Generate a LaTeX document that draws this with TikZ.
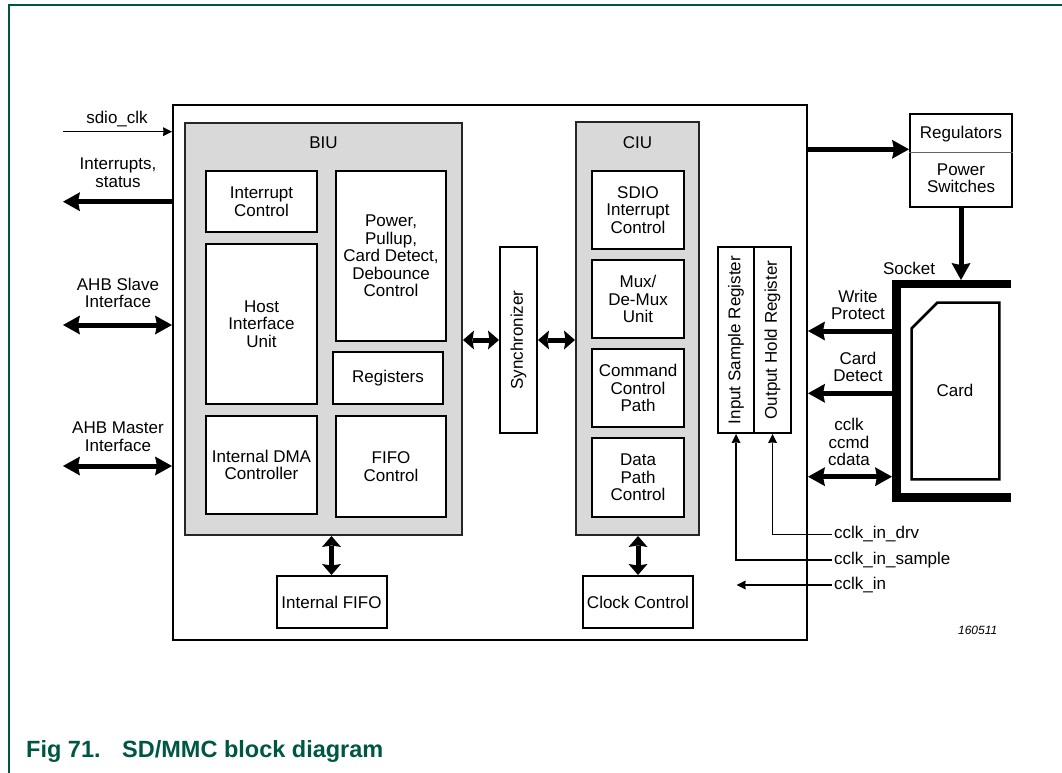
\documentclass[tikz,border=0pt]{standalone}
\usepackage{fontspec}
\setmainfont{Liberation Sans}
\usetikzlibrary{arrows.meta}
\definecolor{nxpgreen}{RGB}{0,86,68}
\definecolor{biugray}{RGB}{217,217,217}
\tikzset{
  txt/.style={font=\fontsize{17}{17.5}\selectfont, align=center, inner sep=0pt},
  wbox/.style={draw=black, line width=2pt, fill=white, rectangle, inner sep=0pt, align=center, font=\fontsize{17}{17.5}\selectfont},
  gbox/.style={draw=black!85, line width=2pt, fill=biugray, rectangle, inner sep=0pt},
  bigarrow/.style={line width=5pt, -{Stealth[length=17pt,width=19pt,inset=2pt,line width=0pt]}},
  bigdouble/.style={line width=5pt, {Stealth[length=17pt,width=19pt,inset=2pt,line width=0pt]}-{Stealth[length=17pt,width=19pt,inset=2pt,line width=0pt]}},
  shortdouble/.style={line width=5pt, {Stealth[length=11pt,width=19pt,inset=1.5pt,line width=0pt]}-{Stealth[length=11pt,width=19pt,inset=1.5pt,line width=0pt]}},
  thinarrow/.style={line width=1.4pt, -{Stealth[length=9pt,width=9pt,inset=0.5pt,line width=0pt]}},
  frameline/.style={draw=nxpgreen, line width=2pt},
  captxt/.style={anchor=base west, font=\fontsize{23.5}{23.5}\selectfont\bfseries, text=nxpgreen, inner sep=0pt},
}
\begin{document}
\begin{tikzpicture}[x=1pt,y=-1pt]
\useasboundingbox (0,0) rectangle (1062,773);
% page frame
\draw[frameline] (9,773) -- (9,5) -- (1062,5);

% main block
\node[wbox, minimum width=634pt, minimum height=535pt] (main) at (490,372.5) {};

% BIU
\node[gbox, minimum width=277pt, minimum height=412pt] (biu) at (323.5,329) {};
\node[txt] (biul) at (323.5,143) {BIU};
\node[wbox, minimum width=111pt, minimum height=61pt] (ic) at (261.5,201.5) {Interrupt\\Control};
\node[wbox, minimum width=111pt, minimum height=160pt] (hiu) at (261.5,324) {Host\\Interface\\Unit};
\node[wbox, minimum width=111pt, minimum height=98pt] (dma) at (261.5,465) {Internal DMA\\Controller};
\node[wbox, minimum width=110pt, minimum height=170pt] (pwr) at (391,256) {Power,\\Pullup,\\Card Detect,\\Debounce\\Control};
\node[wbox, minimum width=110pt, minimum height=52pt] (regs) at (388,378) {Registers};
\node[wbox, minimum width=110pt, minimum height=101pt] (fifoc) at (391,466.5) {FIFO\\Control};

% CIU
\node[gbox, minimum width=123pt, minimum height=413pt] (ciu) at (637.5,328.5) {};
\node[txt] (ciul) at (637.5,143) {CIU};
\node[wbox, minimum width=92pt, minimum height=78pt] (sdio) at (638,210) {SDIO\\Interrupt\\Control};
\node[wbox, minimum width=92pt, minimum height=78pt] (mux) at (638,299) {Mux/\\De-Mux\\Unit};
\node[wbox, minimum width=92pt, minimum height=78pt] (cmd) at (638,388) {Command\\Control\\Path};
\node[wbox, minimum width=92pt, minimum height=79pt] (dpc) at (638,477.5) {Data\\Path\\Control};

% Synchronizer
\node[wbox, minimum width=37pt, minimum height=186pt] (sync) at (518.5,340) {};
\node[txt, rotate=90] (syncl) at (sync.center) {Synchronizer};
\draw[shortdouble] (biu.east |- sync.west) -- (sync.west);
\draw[shortdouble] (sync.east) -- (ciu.west |- sync.east);

% bottom boxes
\node[wbox, minimum width=110pt, minimum height=52pt] (ififo) at (331.5,602) {Internal FIFO};
\node[wbox, minimum width=110pt, minimum height=52pt] (clkc) at (638,602) {Clock Control};
\draw[shortdouble] (ififo.north |- biu.south) -- (ififo.north);
\draw[shortdouble] (clkc.north |- ciu.south) -- (clkc.north);

% registers
\node[wbox, minimum width=36pt, minimum height=186pt] (isr) at (736,340) {};
\node[txt, rotate=90] (isrl) at (isr.center) {Input Sample Register};
\node[wbox, minimum width=37pt, minimum height=186pt] (ohr) at (772.5,340) {};
\node[txt, rotate=90] (ohrl) at (ohr.center) {Output Hold Register};

% left side signals
\coordinate (sdioend) at (63,131.7);
\coordinate (intend) at (63,201.7);
\coordinate (slvend) at (63,325);
\coordinate (mstend) at (63,466);
\draw[thinarrow] (sdioend) -- (main.west |- sdioend);
\node[txt] (sdiol) at (117,119) {sdio\_clk};
\draw[bigarrow] (main.west |- intend) -- (intend);
\node[txt] (intl) at (118,172.5) {Interrupts,\\status};
\draw[bigdouble] (slvend) -- (main.west |- slvend);
\node[txt] (slvl) at (118,293) {AHB Slave\\Interface};
\draw[bigdouble] (mstend) -- (main.west |- mstend);
\node[txt] (mstl) at (118,436.5) {AHB Master\\Interface};

% regulators
\node[draw=black, line width=2pt, fill=white, minimum width=102pt, minimum height=93pt, inner sep=0pt] (regbox) at (961,160.5) {};
\draw[line width=1pt, black!60] (regbox.west |- 0,152.3) -- (regbox.east |- 0,152.3);
\node[txt] (regul) at (961,134) {Regulators};
\node[txt] (pswl) at (961,178) {Power\\Switches};
\coordinate (pwrout) at (807,149.3);
\draw[bigarrow] (main.east |- pwrout) -- (regbox.west |- pwrout);
\coordinate (socktop) at (961,280);
\draw[bigarrow] (regbox.south) -- (socktop);

% socket and card
\draw[line width=8.5pt, line join=miter] (1011,284) -- (896.5,284) -- (896.5,497.5) -- (1011,497.5);
\node[txt] (sockl) at (909,268) {Socket};
\draw[line width=2.5pt, line join=miter] (937.3,302.7) -- (999.3,302.7) -- (999.3,479.3) -- (911.7,479.3) -- (911.7,328.3) -- cycle;
\node[txt] (cardl) at (955,390) {Card};

\coordinate (wps) at (892,331);
\coordinate (cds) at (892,393.3);
\coordinate (ccs) at (892,476.7);
\draw[bigarrow] (wps) -- (main.east |- wps);
\node[txt] (wpl) at (858,304.7) {Write\\Protect};
\draw[bigarrow] (cds) -- (main.east |- cds);
\node[txt] (cdl) at (858,366.7) {Card\\Detect};
\draw[bigdouble] (main.east |- ccs) -- (ccs);
\node[txt] (ccl) at (849,442.3) {cclk\\ccmd\\cdata};

% clock inputs
\coordinate (drvs) at (831.7,534.3);
\coordinate (smps) at (831.7,560);
\coordinate (cins) at (831.7,585);
\coordinate (cine) at (736.7,585);
\draw[thinarrow] (drvs) -- (ohr.south |- drvs) -- (ohr.south);
\draw[thinarrow] (smps) -- (isr.south |- smps) -- (isr.south);
\draw[thinarrow] (cins) -- (cine);
\node[txt, anchor=west] (drvl) at (834,534.3) {cclk\_in\_drv};
\node[txt, anchor=west] (smpl) at (834,560) {cclk\_in\_sample};
\node[txt, anchor=west] (cinl) at (834,585) {cclk\_in};

\node[font=\fontsize{12}{12}\selectfont\itshape, inner sep=0pt] (docid) at (977.7,630) {160511};

% caption
\node[captxt] (figno) at (26,757) {Fig 71.};
\node[captxt] (figtitle) at (122,757) {SD/MMC block diagram};
\end{tikzpicture}
\end{document}
